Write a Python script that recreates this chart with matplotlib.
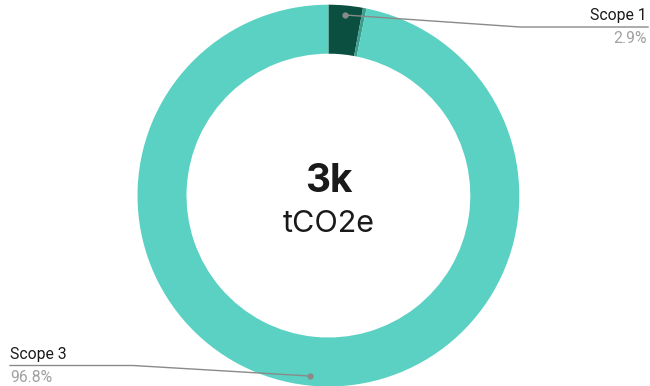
import matplotlib
matplotlib.use("Agg")
import matplotlib.pyplot as plt
import numpy as np

categories = ["Scope 1", "Scope 2", "Scope 3"]
values = [2.9, 0.3, 96.8]
pct_labels = ["2.9%", "0.3%", "96.8%"]
colors = ["#0a4f3f", "#3a9f8c", "#5ad1c3"]
center_value = "3k"
center_unit = "tCO2e"
labelled = ["Scope 1", "Scope 3"]

W, H = 650, 386
fig = plt.figure(figsize=(W / 100, H / 100), dpi=100)
ax = fig.add_axes([0, 0, 1, 1])
ax.set_xlim(0, W)
ax.set_ylim(0, H)
ax.axis("off")

cx, cy = 328.4, H - 195.6
R = 190.9
ring = 49

wedges, _ = ax.pie(values, colors=colors, center=(cx, cy), radius=R,
                   startangle=90, counterclock=False,
                   wedgeprops=dict(width=ring, linewidth=0))
ax.set_xlim(0, W)
ax.set_ylim(0, H)
ax.set_aspect("equal")

ax.text(cx, H - 191.5, center_value, ha="center", va="baseline", fontsize=28,
        fontweight="bold", family="Inter", color="#1a1a1a")
ax.text(cx, H - 232.5, center_unit, ha="center", va="baseline", fontsize=22,
        family="Inter", color="#1a1a1a")

line_c = "#8a8a8a"
fs = 11.3
for w, cat, pl in zip(wedges, categories, pct_labels):
    if cat not in labelled:
        continue
    mid = np.deg2rad((w.theta1 + w.theta2) / 2)
    r_dot = R * 0.95
    px, py = cx + r_dot * np.cos(mid), cy + r_dot * np.sin(mid)
    ax.plot(px, py, "o", ms=3.5, color=line_c, zorder=5)
    if np.cos(mid) >= 0:
        elbow = (520, H - 27)
        end_x = 648
        ax.plot([px, elbow[0], end_x], [py, elbow[1], elbow[1]], color=line_c, lw=1, zorder=4)
        ax.text(end_x - 1, elbow[1] + 4, cat, ha="right", va="bottom", fontsize=fs,
                family="Roboto", color="#1a1a1a")
        ax.text(end_x - 1, elbow[1] - 4, pl, ha="right", va="top", fontsize=fs,
                family="Roboto", color="#a0a0a0")
    else:
        elbow = (133, H - 365.5)
        end_x = 10
        ax.plot([px, elbow[0], end_x], [py, elbow[1], elbow[1]], color=line_c, lw=1, zorder=4)
        ax.text(end_x, elbow[1] + 4, cat, ha="left", va="bottom", fontsize=fs,
                family="Roboto", color="#1a1a1a")
        ax.text(end_x, elbow[1] - 4, pl, ha="left", va="top", fontsize=fs,
                family="Roboto", color="#a0a0a0")

fig.savefig("out.png", dpi=100)
